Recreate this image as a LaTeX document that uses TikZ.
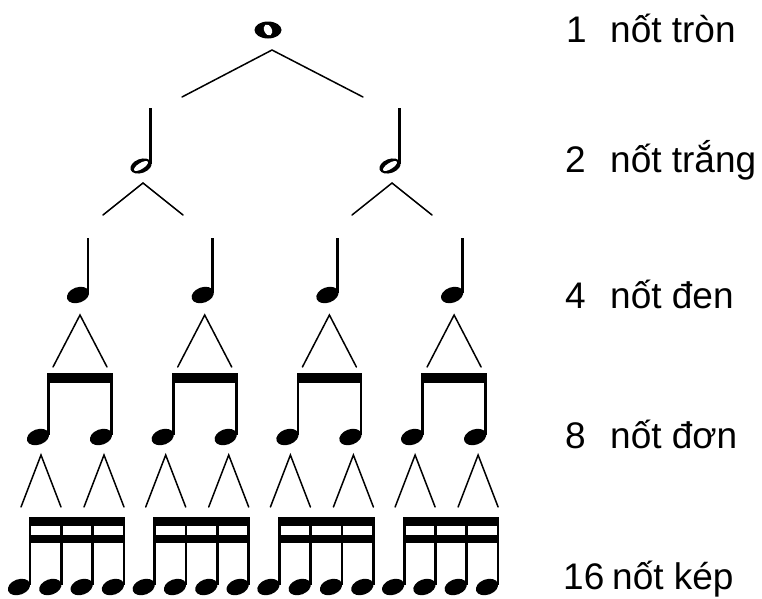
\documentclass[tikz,border=0pt]{standalone}
\usepackage{fontspec}
\setmainfont{Liberation Sans}
\begin{document}
\begin{tikzpicture}[x=1pt,y=-1pt,
  branch/.style={line width=1.5pt, black, line cap=round},
  stemline/.style={line width=2.8pt, black},
  beambar/.style={fill=black},
  lbl/.style={anchor=base west, font=\fontsize{37}{40}\selectfont, inner sep=0pt, text=black},
  wholehead/.pic={\fill (0,0) ellipse (13.5pt and 8.5pt);
                  \fill[white,rotate=25] (0,0) ellipse (3.8pt and 5.8pt);},
  halfhead/.pic={\fill[rotate=20] (0,0) ellipse (11pt and 7pt);
                 \fill[white,rotate=32] (0,0) ellipse (8pt and 3pt);},
  solidhead/.pic={\fill[rotate=20] (0,0) ellipse (11.5pt and 7.7pt);}
]
\useasboundingbox (0,0) rectangle (762,598);

% ---------- whole note ----------
\pic at (268,30) {wholehead};
\coordinate (wA) at (272,50);
\coordinate (wL) at (182,97);
\coordinate (wR) at (363,97);
\draw[branch] (wL) -- (wA) -- (wR);

% ---------- half notes ----------
\foreach \i/\hx in {1/141,2/390}{
  \pic at (\hx,166) {halfhead};
  \coordinate (hS\i) at (\hx+9.5,108);
  \coordinate (hE\i) at (\hx+9.5,164);
  \draw[stemline] (hS\i) -- (hE\i);
  \coordinate (hA\i) at (\hx+2,183);
  \coordinate (hL\i) at (\hx-38,215);
  \coordinate (hR\i) at (\hx+42,215);
  \draw[branch] (hL\i) -- (hA\i) -- (hR\i);
}

% ---------- quarter notes ----------
\foreach \k in {0,1,2,3}{
  \pgfmathsetmacro{\qx}{78+124.7*\k}
  \pic at (\qx,295) {solidhead};
  \coordinate (qS\k) at (\qx+10,238);
  \coordinate (qE\k) at (\qx+10,293);
  \draw[stemline] (qS\k) -- (qE\k);
  \coordinate (qA\k) at (\qx+2,315);
  \coordinate (qL\k) at (\qx-25,367);
  \coordinate (qR\k) at (\qx+29,367);
  \draw[branch] (qL\k) -- (qA\k) -- (qR\k);
}

% ---------- eighth notes ----------
\foreach \k in {0,1,2,3}{
  \pgfmathsetmacro{\ea}{38+124.7*\k}
  \pgfmathsetmacro{\eb}{\ea+63}
  \pic at (\ea,437) {solidhead};
  \pic at (\eb,437) {solidhead};
  \coordinate (eSa\k) at (\ea+10.5,373);
  \coordinate (eEa\k) at (\ea+10.5,435);
  \coordinate (eSb\k) at (\eb+10.5,373);
  \coordinate (eEb\k) at (\eb+10.5,435);
  \draw[stemline] (eSa\k) -- (eEa\k);
  \draw[stemline] (eSb\k) -- (eEb\k);
  \fill[beambar] ([xshift=-1.4pt]eSa\k) rectangle ([xshift=1.4pt,yshift=-10pt]eSb\k);
  \foreach \j/\hx in {a/\ea,b/\eb}{
    \coordinate (eA\j\k) at (\hx+3,455);
    \coordinate (eL\j\k) at (\hx-17,507);
    \coordinate (eR\j\k) at (\hx+23,507);
    \draw[branch] (eL\j\k) -- (eA\j\k) -- (eR\j\k);
  }
}

% ---------- sixteenth notes ----------
\foreach \k in {0,1,2,3}{
  \pgfmathsetmacro{\sa}{19+124.7*\k}
  \foreach \m in {0,1,2,3}{
    \pgfmathsetmacro{\sx}{\sa+31.3*\m}
    \pic at (\sx,587) {solidhead};
    \coordinate (sS\k\m) at (\sx+11,517);
    \coordinate (sE\k\m) at (\sx+11,585);
    \draw[stemline] (sS\k\m) -- (sE\k\m);
  }
  \fill[beambar] ([xshift=-1.4pt]sS\k0) rectangle ([xshift=1.4pt,yshift=-9pt]sS\k3);
  \fill[beambar] ([xshift=-1.4pt,yshift=-18pt]sS\k0) rectangle ([xshift=1.4pt,yshift=-26pt]sS\k3);
}

% ---------- labels ----------
\node[lbl] (n1) at (566,42) {1};
\node[lbl] (t1) at (610,42) {nốt tròn};
\node[lbl] (n2) at (565,172) {2};
\node[lbl] (t2) at (610,172) {nốt trắng};
\node[lbl] (n4) at (565,308) {4};
\node[lbl] (t4) at (610,308) {nốt đen};
\node[lbl] (n8) at (565,448) {8};
\node[lbl] (t8) at (610,448) {nốt đơn};
\node[lbl] (n16) at (563,589) {16};
\node[lbl] (t16) at (612,589) {nốt kép};
\end{tikzpicture}
\end{document}
